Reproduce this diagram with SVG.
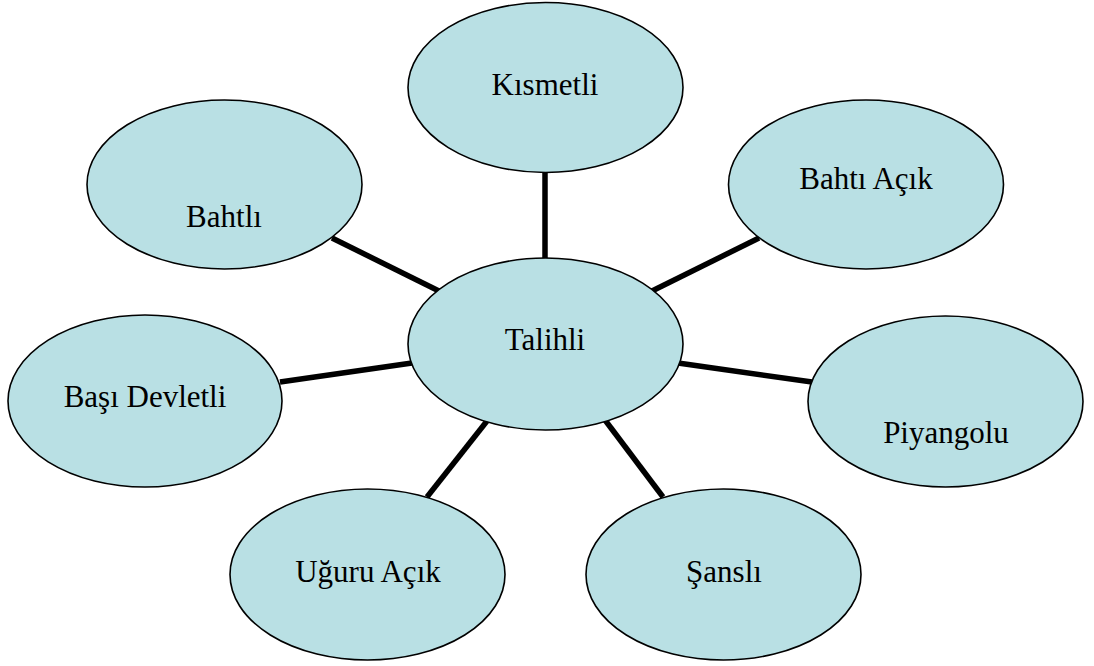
<svg xmlns="http://www.w3.org/2000/svg" width="1094" height="666" viewBox="0 0 1094 666">
<style>
.node ellipse{fill:#b9e0e4;stroke:#000;stroke-width:1.6}
.node text{font-size:31px;fill:#000;text-anchor:middle}
#connectors line{stroke:#000;stroke-width:5.5}
</style>
<rect width="1094" height="666" fill="#fff"/>
<g id="connectors">
<line x1="545" y1="172" x2="545" y2="259"/>
<line x1="332" y1="238" x2="441" y2="292"/>
<line x1="759" y1="238" x2="652" y2="291"/>
<line x1="280" y1="382" x2="412" y2="363"/>
<line x1="678" y1="363" x2="812" y2="382"/>
<line x1="427" y1="497" x2="487" y2="421"/>
<line x1="605" y1="420" x2="663" y2="497"/>
</g>
<g font-family="'Liberation Serif', 'DejaVu Serif', serif">
<g id="node-kismetli" class="node"><ellipse cx="545.5" cy="87.5" rx="137.5" ry="85"/><text x="545" y="95">Kısmetli</text></g>
<g id="node-bahtli" class="node"><ellipse cx="224.5" cy="184.5" rx="137.5" ry="84.5"/><text x="224" y="227">Bahtlı</text></g>
<g id="node-bahti-acik" class="node"><ellipse cx="866" cy="184.5" rx="137.5" ry="84.5"/><text x="866" y="189">Bahtı Açık</text></g>
<g id="node-talihli" class="node"><ellipse cx="545.5" cy="344" rx="137.5" ry="86"/><text x="545" y="350">Talihli</text></g>
<g id="node-basi-devletli" class="node"><ellipse cx="145" cy="401" rx="137" ry="86"/><text x="145" y="407">Başı Devletli</text></g>
<g id="node-piyangolu" class="node"><ellipse cx="945.5" cy="401.5" rx="137.5" ry="85.5"/><text x="946" y="443">Piyangolu</text></g>
<g id="node-uguru-acik" class="node"><ellipse cx="367.5" cy="574.5" rx="137.5" ry="85.5"/><text x="368" y="582">Uğuru Açık</text></g>
<g id="node-sansli" class="node"><ellipse cx="723.5" cy="574.5" rx="137.5" ry="85.5"/><text x="724" y="582">Şanslı</text></g>
</g>
</svg>
